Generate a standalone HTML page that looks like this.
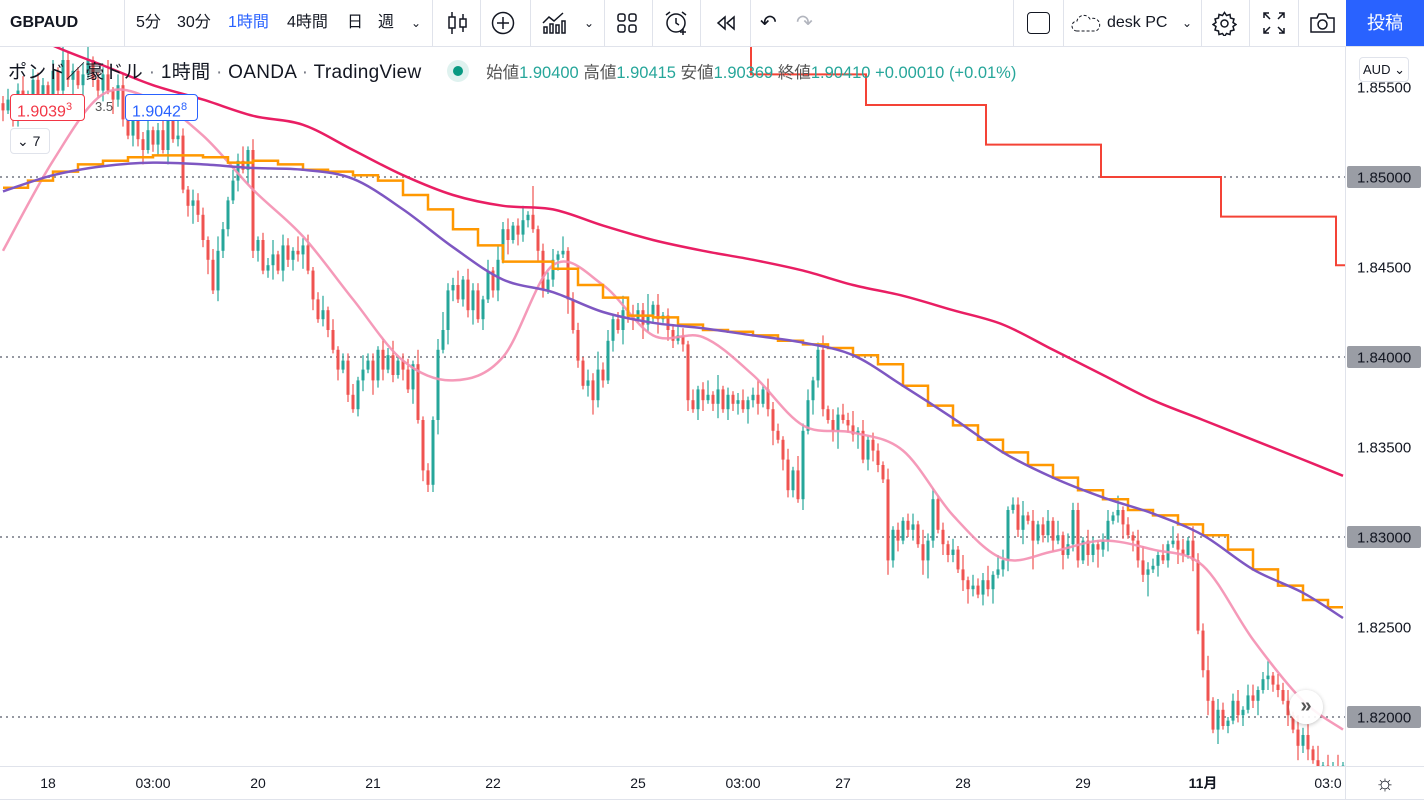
<!DOCTYPE html>
<html><head><meta charset="utf-8">
<style>
*{margin:0;padding:0;box-sizing:border-box}
body{width:1424px;height:800px;overflow:hidden;background:#fff;font-family:"Liberation Sans","Noto Sans CJK JP",sans-serif;color:#131722;position:relative}
#tb{position:absolute;left:0;top:0;width:1424px;height:47px;border-bottom:1px solid #e0e3eb;background:#fff}
.ti{position:absolute;top:0;height:46px;line-height:46px;font-size:16px;color:#131722}
.sep{position:absolute;top:0;width:1px;height:46px;background:#e0e3eb}
#chart{position:absolute;left:0;top:0}
.leg{position:absolute;left:8px;top:57px;font-size:19px;white-space:nowrap}
.box{position:absolute;height:27px;line-height:25px;font-size:16px;border:1px solid;border-radius:4px;background:#fff;padding:0 6px}
</style></head><body>
<svg id="chart" width="1424" height="800"></svg>

<div id="tb">
  <div class="ti" style="left:10px;font-weight:bold">GBPAUD</div>
  <div class="sep" style="left:124px"></div>
  <div class="ti" style="left:136px">5分</div>
  <div class="ti" style="left:177px">30分</div>
  <div class="ti" style="left:228px;color:#2962ff">1時間</div>
  <div class="ti" style="left:287px">4時間</div>
  <div class="ti" style="left:347px">日</div>
  <div class="ti" style="left:378px">週</div>
  <div class="ti" style="left:411px;font-size:12px">⌄</div>
  <div class="sep" style="left:432px"></div>
  <svg style="position:absolute;left:447px;top:11px" width="22" height="24"><g stroke="#131722" stroke-width="1.5" fill="none"><line x1="5" y1="1" x2="5" y2="23"/><rect x="2" y="6" width="6" height="11" fill="#fff"/><line x1="16" y1="3" x2="16" y2="21"/><rect x="13" y="8" width="6" height="8" fill="#fff"/></g></svg>
  <div class="sep" style="left:480px"></div>
  <svg style="position:absolute;left:491px;top:11px" width="24" height="24"><circle cx="12" cy="12" r="10.5" stroke="#131722" stroke-width="1.5" fill="none"/><path d="M12 6v12M6 12h12" stroke="#131722" stroke-width="1.5"/></svg>
  <div class="sep" style="left:530px"></div>
  <svg style="position:absolute;left:541px;top:11px" width="26" height="24"><g stroke="#131722" stroke-width="1.5" fill="none"><path d="M2 12l6-6 5 4 9-8"/><rect x="3" y="16" width="3" height="6"/><rect x="9" y="13" width="3" height="9"/><rect x="15" y="14" width="3" height="8"/><rect x="21" y="10" width="3" height="12"/></g></svg>
  <div class="ti" style="left:584px;font-size:12px">⌄</div>
  <div class="sep" style="left:604px"></div>
  <svg style="position:absolute;left:617px;top:13px" width="20" height="20"><g stroke="#131722" stroke-width="1.5" fill="none"><rect x="1" y="1" width="7" height="7" rx="2"/><rect x="12" y="1" width="7" height="7" rx="2"/><rect x="1" y="12" width="7" height="7" rx="2"/><rect x="12" y="12" width="7" height="7" rx="2"/></g></svg>
  <div class="sep" style="left:652px"></div>
  <svg style="position:absolute;left:664px;top:10px" width="26" height="26"><g stroke="#131722" stroke-width="1.5" fill="none"><circle cx="12" cy="13" r="9"/><path d="M12 8v5l3 2M2 5l4-3M22 5l-4-3M19 19v6M16 22h6"/></g></svg>
  <div class="sep" style="left:700px"></div>
  <svg style="position:absolute;left:715px;top:15px" width="22" height="16"><g stroke="#131722" stroke-width="1.5" fill="none"><path d="M10 2L3 8l7 6zM19 2l-7 6 7 6z"/></g></svg>
  <div class="sep" style="left:750px"></div>
  <div class="ti" style="left:760px;font-size:20px">↶</div>
  <div class="ti" style="left:796px;font-size:20px;color:#b2b5be">↷</div>
  <div class="sep" style="left:1013px"></div>
  <div style="position:absolute;left:1027px;top:12px;width:23px;height:22px;border:1.5px solid #131722;border-radius:4px"></div>
  <div class="sep" style="left:1063px"></div>
  <svg style="position:absolute;left:1071px;top:13px" width="30" height="20"><path d="M6 18a5 5 0 010-10 7 7 0 0113-2 6 6 0 016 12z" stroke="#131722" stroke-dasharray="3 2" fill="none"/></svg>
  <div class="ti" style="left:1107px">desk PC</div>
  <div class="ti" style="left:1182px;font-size:12px">⌄</div>
  <div class="sep" style="left:1201px"></div>
  <svg style="position:absolute;left:1212px;top:11px" width="25" height="25"><g stroke="#131722" stroke-width="1.5" fill="none"><path d="M12.5 1.5l2 3 3.5-1 .5 3.5 3.5 1-1 3.5 3 2-3 2 1 3.5-3.5 1-.5 3.5-3.5-1-2 3-2-3-3.5 1-.5-3.5-3.5-1 1-3.5-3-2 3-2-1-3.5 3.5-1 .5-3.5 3.5 1z"/><circle cx="12.5" cy="12.5" r="3.5"/></g></svg>
  <div class="sep" style="left:1249px"></div>
  <svg style="position:absolute;left:1263px;top:12px" width="22" height="22"><g stroke="#131722" stroke-width="1.5" fill="none"><path d="M1 6V1h5M1 1l6 6M21 6V1h-5M21 1l-6 6M1 16v5h5M1 21l6-6M21 16v5h-5M21 21l-6-6"/></g></svg>
  <div class="sep" style="left:1298px"></div>
  <svg style="position:absolute;left:1309px;top:12px" width="27" height="22"><g stroke="#131722" stroke-width="1.5" fill="none"><path d="M2 6h6l2-4h7l2 4h6v14H2z"/><circle cx="13.5" cy="12.5" r="4.5"/></g></svg>
  <div style="position:absolute;left:1346px;top:0;width:78px;height:46px;background:#2962ff;color:#fff;font-size:18px;line-height:46px;text-align:center">投稿</div>
</div>

<div class="leg">
  <span style="letter-spacing:0.3px">ポンド／豪ドル <span style="color:#787b86">·</span> 1時間 <span style="color:#787b86">·</span> OANDA <span style="color:#787b86">·</span> TradingView</span>
  <span style="display:inline-block;width:22px;height:22px;border-radius:11px;background:#dff2ef;vertical-align:middle;margin-left:20px;position:relative;top:-2px"><span style="position:absolute;left:6px;top:6px;width:10px;height:10px;border-radius:5px;background:#089981"></span></span>
  <span style="font-size:16.5px;margin-left:12px;color:#555">始値<span style="color:#26a69a">1.90400</span> 高値<span style="color:#26a69a">1.90415</span> 安値<span style="color:#26a69a">1.90369</span> 終値<span style="color:#26a69a">1.90410</span> <span style="color:#26a69a">+0.00010 (+0.01%)</span></span>
</div>
<div class="box" style="left:10px;top:94px;width:75px;border-color:#f23645;color:#f23645">1.9039<sup style="font-size:11px">3</sup></div>
<div style="position:absolute;left:95px;top:99px;font-size:13px;color:#555">3.5</div>
<div class="box" style="left:125px;top:94px;width:73px;border-color:#2962ff;color:#2962ff">1.9042<sup style="font-size:11px">8</sup></div>
<div class="box" style="left:10px;top:128px;width:40px;height:26px;border-color:#e0e3eb;color:#131722;font-size:14px">⌄ 7</div>
<div style="position:absolute;left:1359px;top:57px;width:50px;height:25px;border:1px solid #e0e3eb;border-radius:4px;background:#fff;font-size:13px;line-height:23px;text-align:center">AUD ⌄</div>
<div style="position:absolute;left:1289px;top:690px;width:34px;height:34px;border-radius:17px;background:rgba(255,255,255,.9);box-shadow:0 1px 4px rgba(0,0,0,.25);text-align:center;line-height:32px;font-size:20px;font-weight:bold;color:#555">»</div>

<script>
const closes=[1.8537,1.8543,1.8532,1.8548,1.8540,1.8546,1.8554,1.8543,1.8551,1.8546,
1.8559,1.8548,1.8565,1.8554,1.8559,1.8551,1.8557,1.8565,1.8554,1.8548,
1.8557,1.8548,1.8543,1.8551,1.8532,1.8523,1.8537,1.8521,1.8515,1.8526,
1.8518,1.8526,1.8515,1.8532,1.8521,1.8523,1.8493,1.8484,1.8487,1.8479,
1.8465,1.8454,1.8437,1.8459,1.8471,1.8487,1.8498,1.8509,1.8504,1.8515,
1.8459,1.8465,1.8448,1.8451,1.8457,1.8448,1.8462,1.8454,1.8459,1.8457,
1.8462,1.8448,1.8432,1.8421,1.8426,1.8415,1.8404,1.8393,1.8398,1.8379,
1.8371,1.8387,1.8393,1.8398,1.8387,1.8404,1.8393,1.8401,1.8390,1.8398,
1.8393,1.8382,1.8396,1.8365,1.8337,1.8329,1.8365,1.8404,1.8415,1.8437,
1.8440,1.8432,1.8443,1.8426,1.8437,1.8421,1.8432,1.8448,1.8437,1.8454,
1.8471,1.8465,1.8473,1.8468,1.8476,1.8479,1.8471,1.8459,1.8437,1.8443,
1.8454,1.8457,1.8459,1.8432,1.8415,1.8398,1.8384,1.8387,1.8376,1.8393,
1.8387,1.8409,1.8421,1.8415,1.8426,1.8423,1.8421,1.8426,1.8418,1.8423,
1.8429,1.8421,1.8423,1.8415,1.8409,1.8412,1.8407,1.8376,1.8371,1.8382,
1.8376,1.8379,1.8374,1.8382,1.8371,1.8379,1.8374,1.8376,1.8371,1.8376,
1.8379,1.8374,1.8382,1.8371,1.8359,1.8354,1.8343,1.8326,1.8337,1.8321,
1.8359,1.8376,1.8387,1.8404,1.8371,1.8365,1.8359,1.8368,1.8365,1.8362,
1.8357,1.8359,1.8343,1.8354,1.8348,1.8340,1.8332,1.8287,1.8304,1.8298,
1.8309,1.8304,1.8307,1.8296,1.8287,1.8298,1.8321,1.8304,1.8296,1.8290,
1.8293,1.8282,1.8276,1.8271,1.8273,1.8268,1.8276,1.8271,1.8279,1.8282,
1.8287,1.8315,1.8318,1.8304,1.8312,1.8309,1.8298,1.8307,1.8301,1.8309,
1.8298,1.8301,1.8290,1.8296,1.8315,1.8287,1.8298,1.8290,1.8296,1.8293,
1.8298,1.8309,1.8312,1.8315,1.8307,1.8301,1.8298,1.8287,1.8279,1.8282,
1.8284,1.8290,1.8287,1.8296,1.8298,1.8293,1.8290,1.8298,1.8287,1.8248,
1.8226,1.8209,1.8193,1.8204,1.8195,1.8198,1.8209,1.8201,1.8204,1.8212,
1.8209,1.8215,1.8221,1.8223,1.8218,1.8215,1.8209,1.8201,1.8193,1.8184,
1.8190,1.8182,1.8176,1.8171,1.8173,1.8168,1.8171,1.8165,1.8173];
const wickUp="2312413221 3142213512 2413321423 1231452132 2134213241 3122413214 2312413122 3142213241 2314121352 2413221314 2312418122 3141221325 2312413226 1312142131 2414121231 2413221314 2312413232 4131221312 1231423121 3141322414 3122413123 1413221321 2314121342 2131423142 2413212313 3124132314 231413241";
const wickDn="3122413214 2312413122 3142213241 2314121352 2413221314 2312413232 4131221312 1231423121 3141322414 3122413123 1413221321 2314121342 2131423142 2413212313 3124132314 2312413221 3142213512 2413321423 1231452132 2134213241 2312418122 3141221325 2312413226 1312142131 2414121231 2413221314 231413241";
const smaIdx=[0,10,20,30,40,50,60,70,80,90,100,110,120,130,140,150,160,170,180,190,200,210,220,230,240,250,260,268];
const smaLong=[1.8587,1.8573,1.8562,1.8551,1.8543,1.8534,1.8529,1.8515,1.8501,1.8490,1.8484,1.8482,1.8473,1.8465,1.8459,1.8454,1.8448,1.8440,1.8434,1.8426,1.8418,1.8404,1.8390,1.8376,1.8365,1.8354,1.8343,1.8334];
const smaMid=[1.8492,1.8501,1.8506,1.8508,1.8507,1.8505,1.8504,1.8499,1.8482,1.8461,1.8443,1.8436,1.8425,1.8419,1.8416,1.8412,1.8408,1.8401,1.8384,1.8366,1.8347,1.8333,1.8322,1.8313,1.8301,1.8282,1.8269,1.8255];
const smaFast=[1.8459,1.8509,1.8546,1.8543,1.8523,1.8493,1.8467,1.8432,1.8398,1.8387,1.8400,1.8451,1.8440,1.8412,1.8411,1.8390,1.8362,1.8358,1.8348,1.8312,1.8288,1.8292,1.8298,1.8293,1.8284,1.8243,1.8209,1.8193];
const stepEvery=5;
const stepLine=[1.8494,1.8498,1.8503,1.8507,1.8509,1.8511,1.8512,1.8512,1.8511,1.8508,1.8509,1.8507,1.8504,1.8503,1.8501,1.8498,1.8490,1.8482,1.8471,1.8462,1.8453,1.8453,1.8449,1.8440,1.8433,1.8423,1.8422,1.8418,1.8415,1.8414,1.8412,1.8409,1.8407,1.8405,1.8401,1.8396,1.8384,1.8373,1.8362,1.8354,1.8347,1.8340,1.8333,1.8326,1.8321,1.8315,1.8312,1.8307,1.8301,1.8293,1.8282,1.8273,1.8265,1.8261];
const levelStart=[0,150,173,197,220,244,267];
const levelVals=[1.8600,1.8557,1.8540,1.8518,1.8500,1.8478,1.8451];
const priceTicks=[1.855,1.850,1.845,1.840,1.835,1.830,1.825,1.820];
const gridTicks=[1.850,1.840,1.830,1.820];
const timeLabels=["18","03:00","20","21","22","25","03:00","27","28","29","11月","03:0"];
const timeIdx=[9,30,51,74,98,127,148,168,192,216,240,265];

const NS="http://www.w3.org/2000/svg";
const svg=document.getElementById('chart');
const PL=0,PR=1345,PT=47,PB=766;
const y=p=>177+(1.85-p)*18000;
const x=i=>3+5*i;
function el(t,a,parent){const e=document.createElementNS(NS,t);for(const k in a)e.setAttribute(k,a[k]);(parent||svg).appendChild(e);return e;}
const defs=el('defs',{});const cp=el('clipPath',{id:'cp'},defs);el('rect',{x:PL,y:PT,width:PR-PL,height:PB-PT},cp);
const plot=el('g',{'clip-path':'url(#cp)'});



gridTicks.forEach(p=>{const l=el('line',{x1:0,x2:PR,y1:y(p),y2:y(p),stroke:'#9598a1','stroke-width':2,'stroke-dasharray':'2 4'},plot);

});

const up=wickUp.replace(/ /g,''),dn=wickDn.replace(/ /g,'');
closes.forEach((c,i)=>{
  const o=i?closes[i-1]:c+0.0004;
  const hi=Math.max(o,c)+(+up[i]||0)*0.0002,lo=Math.min(o,c)-(+dn[i]||0)*0.0002;
  const col=c>=o?'#26a69a':'#ef5350';
  const g=el('g',{},plot);
  
  
  el('line',{x1:x(i),x2:x(i),y1:y(hi),y2:y(lo),stroke:col,'stroke-width':1.2},g);
  const t=Math.min(y(o),y(c));
  el('rect',{x:x(i)-1.5,y:t,width:3,height:Math.max(1,Math.abs(y(o)-y(c))),fill:col},g);
});

function smooth(vals,idx){const pts=vals.map((v,k)=>[x(idx[k]),y(v)]);let d='M'+pts[0];
 for(let k=0;k<pts.length-1;k++){const p0=pts[k-1]||pts[k],p1=pts[k],p2=pts[k+1],p3=pts[k+2]||p2;
 d+=' C'+(p1[0]+(p2[0]-p0[0])/6)+','+(p1[1]+(p2[1]-p0[1])/6)+' '+(p2[0]-(p3[0]-p1[0])/6)+','+(p2[1]-(p3[1]-p1[1])/6)+' '+p2;}return d;}
const lf=el('path',{d:smooth(smaFast,smaIdx),stroke:'#f48fb1','stroke-width':2.5,fill:'none',opacity:0.9},plot);


let sd='';stepLine.forEach((v,k)=>{const xa=x(k*stepEvery),xb=x(Math.min((k+1)*stepEvery,closes.length-1));sd+=(k?'L':'M')+xa+','+y(v)+'L'+xb+','+y(v);});
const ls=el('path',{d:sd,stroke:'#ff9800','stroke-width':2.5,fill:'none'},plot);


const lm=el('path',{d:smooth(smaMid,smaIdx),stroke:'#7e57c2','stroke-width':2.5,fill:'none'},plot);


const ll=el('path',{d:smooth(smaLong,smaIdx),stroke:'#e91e63','stroke-width':2.5,fill:'none'},plot);


let ld='';levelVals.forEach((v,k)=>{const xa=x(levelStart[k])-2,xb=k<levelVals.length-1?x(levelStart[k+1])-2:PR;ld+=(k?'L':'M')+xa+','+y(v)+'L'+xb+','+y(v);});
const lv=el('path',{d:ld,stroke:'#f44336','stroke-width':2,fill:'none'},plot);



el('line',{x1:PR+.5,x2:PR+.5,y1:PT,y2:800,stroke:'#e0e3eb'});
el('line',{x1:0,x2:1424,y1:PB+.5,y2:PB+.5,stroke:'#e0e3eb'});
el('line',{x1:0,x2:1424,y1:799.5,y2:799.5,stroke:'#e0e3eb'});
priceTicks.forEach(p=>{const g=gridTicks.some(v=>Math.abs(v-p)<1e-6);const yy=y(p);
 if(g){const r=el('rect',{x:1347,y:yy-11,width:74,height:22,rx:2,fill:'#9a9da5'});
 
 }
 const t=el('text',{x:1357,y:yy+5.5,'font-size':15,fill:'#131722','font-family':'Liberation Sans, sans-serif'});t.textContent=p.toFixed(5);
 
 });
timeLabels.forEach((s,k)=>{const t=el('text',{x:x(timeIdx[k]),y:788,'font-size':14,fill:'#131722','text-anchor':'middle','font-weight':s==='11月'?'bold':'normal','font-family':'Liberation Sans, Noto Sans CJK JP, sans-serif'});t.textContent=s;
 
 });
const gear=el('text',{x:1385,y:790,'font-size':22,fill:'#131722','text-anchor':'middle'});gear.textContent='☼';


</script>
</body></html>
